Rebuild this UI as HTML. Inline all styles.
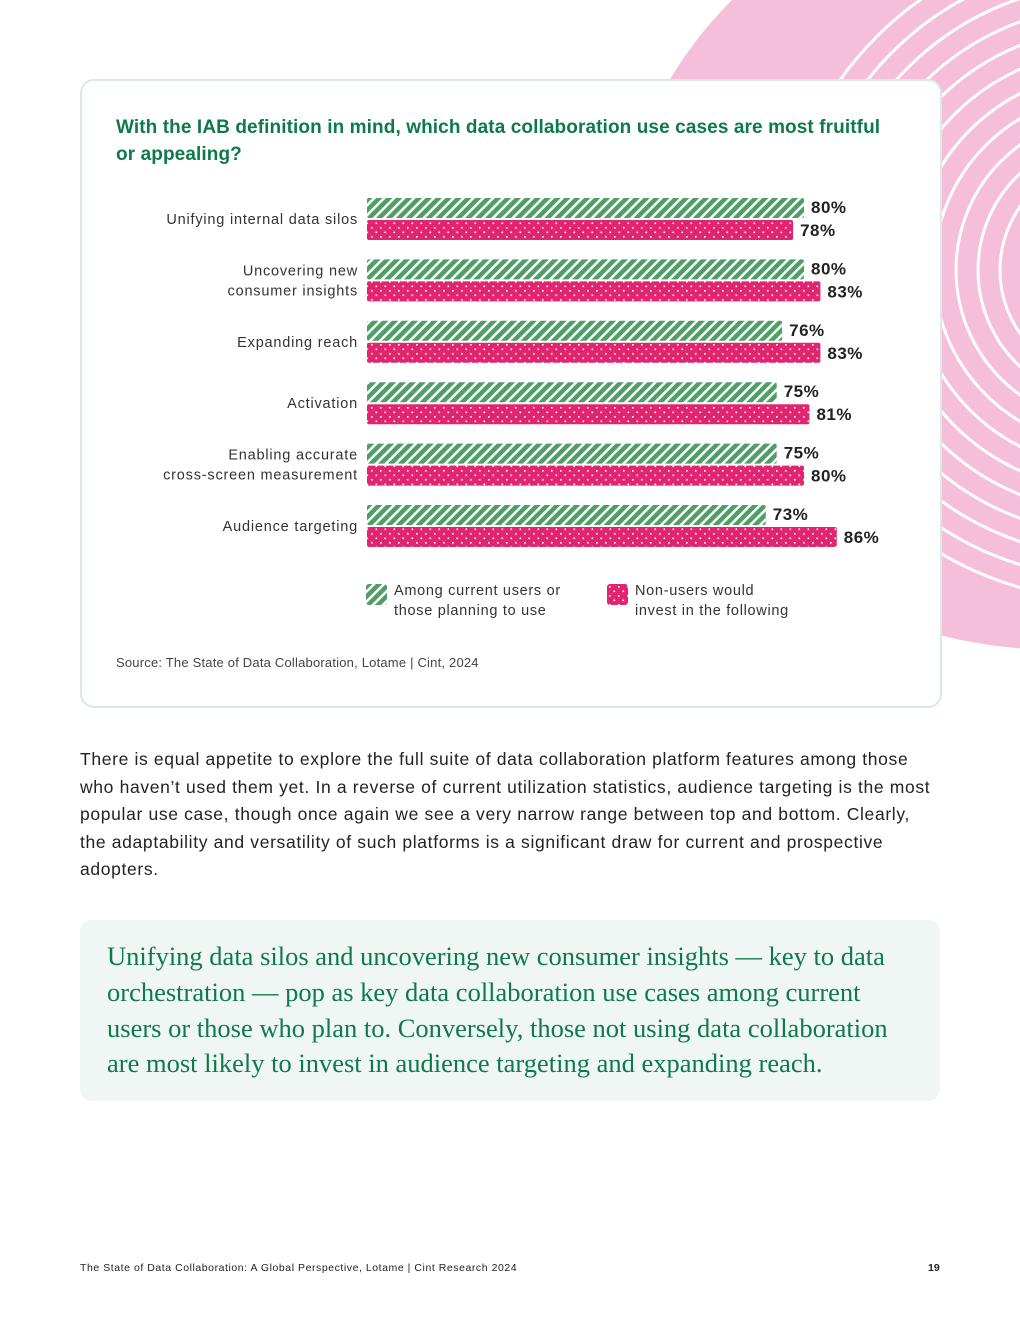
<!DOCTYPE html>
<html><head><meta charset="utf-8">
<style>
body{margin:0;width:1020px;height:1320px;position:relative;background:#fff;font-family:"Liberation Sans",sans-serif;overflow:hidden;color:#222}
.abs{position:absolute}
</style></head>
<body>
<svg class="abs" style="left:0;top:0" width="1020" height="700">
<ellipse cx="1060" cy="260" rx="440" ry="390" fill="#f5bfd9"/>
<g fill="none" stroke="#fff" stroke-width="3" id="arcs"></g>
</svg>
<div class="abs" style="left:80px;top:79px;width:858px;height:625px;background:#fff;border:2px solid #dbe9e6;border-radius:14px"></div>
<div class="abs" style="left:116px;top:114px;width:800px;font-size:19px;font-weight:bold;color:#0e7a4c;line-height:27px;white-space:nowrap;letter-spacing:0.1px">With the IAB definition in mind, which data collaboration use cases are most fruitful<br>or appealing?</div>
<svg class="abs" style="left:0;top:0" width="1020" height="700" id="chart">
<defs>
<pattern id="stripe" width="7" height="7" patternUnits="userSpaceOnUse" patternTransform="rotate(45)">
<rect width="7" height="7" fill="#fff"/><rect width="4.5" height="7" fill="#4e9e66"/></pattern>
<pattern id="dots" width="9" height="9" patternUnits="userSpaceOnUse">
<rect width="9" height="9" fill="#e2256f"/><rect x="2" y="2" width="1.6" height="1.6" fill="#fff"/><rect x="6.5" y="6.5" width="1.6" height="1.6" fill="#fff"/></pattern>
</defs>
</svg>
<div class="abs" style="left:366px;top:581px;font-size:14.5px;line-height:20px;color:#333;letter-spacing:0.7px">
<svg style="position:absolute;left:0;top:3px" width="21" height="21"><rect width="21" height="21" rx="3" fill="url(#stripe)"/></svg>
<div style="margin-left:28px">Among current users or<br>those planning to use</div></div>
<div class="abs" style="left:607px;top:581px;font-size:14.5px;line-height:20px;color:#333;letter-spacing:0.7px">
<svg style="position:absolute;left:0;top:3px" width="21" height="21"><rect width="21" height="21" rx="3" fill="url(#dots)"/></svg>
<div style="margin-left:28px">Non-users would<br>invest in the following</div></div>
<div class="abs" style="left:116px;top:655px;font-size:13px;color:#444;letter-spacing:0.2px">Source: The State of Data Collaboration, Lotame | Cint, 2024</div>
<div class="abs" style="left:80px;top:746px;width:900px;font-size:17.5px;line-height:27.5px;color:#222;white-space:nowrap;letter-spacing:0.65px">There is equal appetite to explore the full suite of data collaboration platform features among those<br>who haven’t used them yet. In a reverse of current utilization statistics, audience targeting is the most<br>popular use case, though once again we see a very narrow range between top and bottom. Clearly,<br>the adaptability and versatility of such platforms is a significant draw for current and prospective<br>adopters.</div>
<div class="abs" style="left:80px;top:920px;width:860px;height:181px;background:#f0f6f4;border-radius:12px"></div>
<div class="abs" style="left:107px;top:939px;width:820px;font-family:'Liberation Serif',serif;font-size:26.5px;line-height:35.8px;color:#0e7a4c;white-space:nowrap;letter-spacing:0px">Unifying data silos and uncovering new consumer insights — key to data<br>orchestration — pop as key data collaboration use cases among current<br>users or those who plan to. Conversely, those not using data collaboration<br>are most likely to invest in audience targeting and expanding reach.</div>
<div class="abs" style="left:80px;top:1262px;font-size:10.5px;color:#222;letter-spacing:0.55px">The State of Data Collaboration: A Global Perspective, Lotame | Cint Research 2024</div>
<div class="abs" style="left:928px;top:1262px;font-size:10.5px;font-weight:bold;color:#222">19</div>
<script>
const categories=[["Unifying internal data silos"],["Uncovering new","consumer insights"],["Expanding reach"],["Activation"],["Enabling accurate","cross-screen measurement"],["Audience targeting"]];
const usersValues=[80,80,76,75,75,73];
const nonUsersValues=[78,83,83,81,80,86];
const NS="http://www.w3.org/2000/svg";
const svg=document.getElementById('chart');
const x0=367, pxPer=5.4625, y0=198, groupStep=61.4, barH=20;
const xScale=v=>x0+v*pxPer;
const yScale=i=>y0+i*groupStep;
function mk(t,a){const e=document.createElementNS(NS,t);for(const k in a)e.setAttribute(k,a[k]);svg.appendChild(e);return e;}
categories.forEach((lines,i)=>{
  const y=yScale(i);
  const b1=mk('rect',{x:x0,y:y,width:xScale(usersValues[i])-x0,height:barH,rx:2,fill:'url(#stripe)'});
  
  
  const b2=mk('rect',{x:x0,y:y+22,width:xScale(nonUsersValues[i])-x0,height:barH,rx:2,fill:'url(#dots)'});
  
  
  const t1=mk('text',{x:xScale(usersValues[i])+7,y:y+15,'font-size':17,'font-weight':'bold',fill:'#222','letter-spacing':'0.5'});
  t1.textContent=usersValues[i]+'%';
  
  
  const t2=mk('text',{x:xScale(nonUsersValues[i])+7,y:y+38,'font-size':17,'font-weight':'bold',fill:'#222','letter-spacing':'0.5'});
  t2.textContent=nonUsersValues[i]+'%';
  
  
  const cy=y+21;
  lines.forEach((ln,j)=>{
    const ty=cy+5+(j-(lines.length-1)/2)*20;
    const t=mk('text',{x:358,y:ty,'text-anchor':'end','font-size':14.5,fill:'#333','letter-spacing':'0.8'});
    t.textContent=ln;
    
    
  });
});
const arcs=document.getElementById('arcs');
for(let r=110;r<=350;r+=22){
  const c=document.createElementNS(NS,'circle');
  c.setAttribute('cx',1110);c.setAttribute('cy',270);c.setAttribute('r',r);
  arcs.appendChild(c);
}
</script>
</body></html>
